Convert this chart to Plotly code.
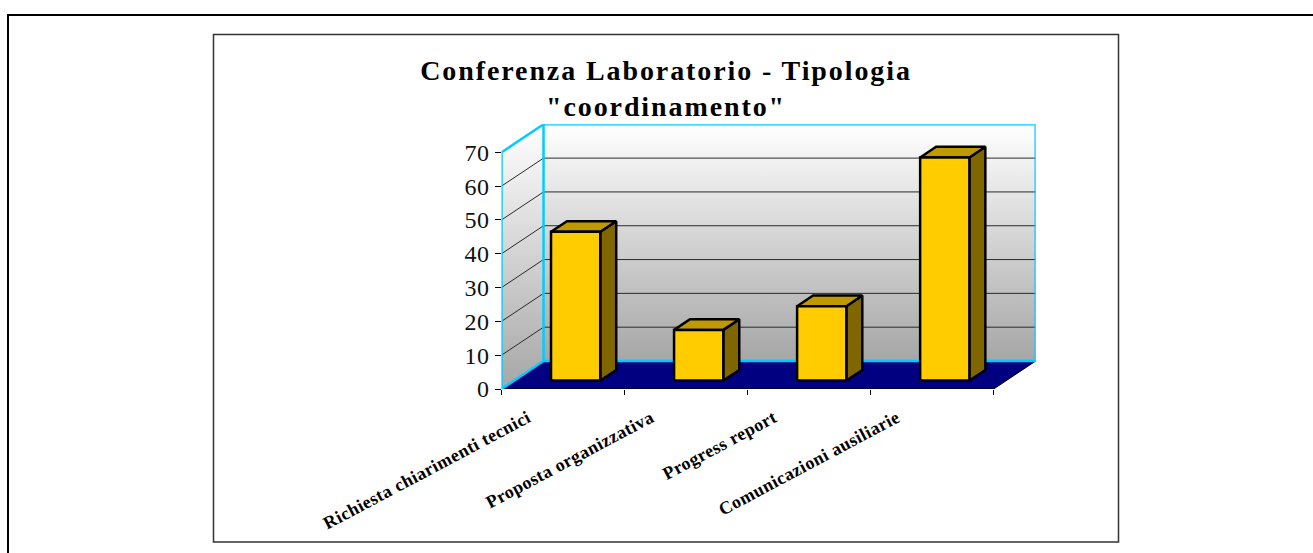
import plotly.graph_objects as go

# Data
categories = ["Richiesta chiarimenti tecnici", "Proposta organizzativa", "Progress report", "Comunicazioni ausiliarie"]
values = [44, 15, 22, 66]
y_ticks = [0, 10, 20, 30, 40, 50, 60, 70]
title_lines = ["Conferenza Laboratorio - Tipologia", '"coordinamento"']

# Oblique projection of the depth axis, in axis units
DEPTH_X = 0.3415
DEPTH_Y = 8.28
BAR_WIDTH = 0.4
BAR_FRONT, BAR_BACK = 0.30, 0.68
Y_MAX = y_ticks[-1]
N = len(categories)

CYAN = "#00CCFF"
FRONT, TOP, SIDE = "#FFCC00", "#BF9900", "#806600"


def proj(x, y, depth):
    return x + depth * DEPTH_X, y + depth * DEPTH_Y


def poly(points, **kw):
    pts = [proj(*p) for p in points]
    xs = [p[0] for p in pts]
    ys = [p[1] for p in pts]
    return go.Scatter(x=xs, y=ys, mode="lines", hoverinfo="skip", showlegend=False,
                      cliponaxis=False, **kw)


def closed(points):
    return points + points[:1]


WALL_SCALE = [[0, "#A6A6A6"], [1, "#FFFFFF"]]
fig = go.Figure()

# Walls
wall_grad = dict(type="vertical", colorscale=WALL_SCALE)
fig.add_trace(poly(closed([(0, 0, 1), (N, 0, 1), (N, Y_MAX, 1), (0, Y_MAX, 1)]),
                   fill="toself", fillgradient=wall_grad, line=dict(width=0)))
fig.add_trace(poly(closed([(0, 0, 0), (0, 0, 1), (0, Y_MAX, 1), (0, Y_MAX, 0)]),
                   fill="toself", fillgradient=wall_grad, line=dict(width=0)))
# Floor
fig.add_trace(poly(closed([(0, 0, 0), (N, 0, 0), (N, 0, 1), (0, 0, 1)]),
                   fill="toself", fillcolor="#000080", line=dict(width=0)))
# Gridlines
for v in y_ticks[1:-1]:
    fig.add_trace(poly([(0, v, 0), (0, v, 1), (N, v, 1)], line=dict(color="#2a2a2a", width=1)))
# Floor outer edges
fig.add_trace(poly([(0, 0, 0), (N, 0, 0), (N, 0, 1)], line=dict(color="#000000", width=1)))
# Cyan wall frame
cy = dict(color=CYAN, width=2.5)
fig.add_trace(poly([(0, 0, 0), (0, Y_MAX, 0), (0, Y_MAX, 1), (N, Y_MAX, 1), (N, 0, 1), (0, 0, 1), (0, 0, 0)], line=cy))
fig.add_trace(poly([(0, Y_MAX, 1), (0, 0, 1)], line=cy))

# Bars
edge = dict(color="#000000", width=2.5)
for i, v in enumerate(values):
    x0 = i + 0.5 - BAR_WIDTH / 2
    x1 = i + 0.5 + BAR_WIDTH / 2
    f, b = BAR_FRONT, BAR_BACK
    fig.add_trace(poly(closed([(x1, 0, f), (x1, 0, b), (x1, v, b), (x1, v, f)]),
                       fill="toself", fillcolor=SIDE, line=edge))
    fig.add_trace(poly(closed([(x0, v, f), (x1, v, f), (x1, v, b), (x0, v, b)]),
                       fill="toself", fillcolor=TOP, line=edge))
    fig.add_trace(poly(closed([(x0, 0, f), (x1, 0, f), (x1, v, f), (x0, v, f)]),
                       fill="toself", fillcolor=FRONT, line=edge))

W, H = 1313, 553
X0, X1 = 501.5, 1035.7
Y0, Y1 = 389.0, 124.3
SERIF = "Liberation Serif, Times New Roman, serif"

fig.update_layout(
    width=W, height=H, margin=dict(l=0, r=0, t=0, b=0, pad=0, autoexpand=False),
    autosize=False, paper_bgcolor="white", plot_bgcolor="rgba(0,0,0,0)", showlegend=False,
    title=dict(text="<br>".join(f"<b>{t}</b>" for t in title_lines),
               x=666 / W, xanchor="center", y=1 - 80 / H, yanchor="top",
               pad=dict(t=0, b=0, l=0, r=0),
               font=dict(family=SERIF, size=28, color="black")),
    xaxis=dict(domain=[X0 / W, X1 / W], range=[0, N + DEPTH_X], showgrid=False, zeroline=False,
               showline=False, tickmode="array",
               tickvals=[i + 0.5 - 0.285 for i in range(N)],
               ticktext=[f"<b>{c}</b>" for c in categories],
               tickangle=-28, ticks="", automargin=False, ticklabelstandoff=14,
               tickfont=dict(family=SERIF, size=18, color="black")),
    xaxis2=dict(domain=[X0 / W, X1 / W], range=[0, N + DEPTH_X], overlaying="x", anchor="y",
                side="bottom", showgrid=False, zeroline=False, showline=False, tickmode="array",
                tickvals=list(range(N + 1)), ticktext=[""] * (N + 1), ticks="outside", ticklen=5,
                tickcolor="#000000", tickwidth=1, automargin=False),
    yaxis=dict(domain=[1 - Y0 / H, 1 - Y1 / H], range=[0, Y_MAX + DEPTH_Y], showgrid=False,
               zeroline=False, showline=False, tickmode="array", tickvals=y_ticks,
               ticks="outside", ticklen=6, tickcolor="#000000", tickwidth=1, automargin=False,
               tickfont=dict(family=SERIF, size=24, color="#111111")),
    shapes=[
        dict(type="path", xref="paper", yref="paper",
             path=f"M {8/W} 0 L {8/W} {1-15/H} L 1 {1-15/H}",
             line=dict(color="black", width=2)),
        dict(type="rect", xref="paper", yref="paper", x0=213.5 / W, x1=1118.5 / W,
             y0=1 - 542 / H, y1=1 - 34.5 / H, line=dict(color="#333333", width=1.5)),
    ],
)
fig.add_trace(go.Scatter(x=[0], y=[0], xaxis="x2", yaxis="y", mode="markers",
                         marker=dict(opacity=0), hoverinfo="skip", showlegend=False))

post = """
document.body.style.margin='0';
document.documentElement.style.overflow='hidden';
document.querySelectorAll('.gtitle').forEach(e=>{e.style.letterSpacing='1.9px';});
document.querySelectorAll('.ytick text').forEach(e=>{e.style.letterSpacing='0.6px';});
document.querySelectorAll('.xtick text').forEach(e=>{e.style.letterSpacing='0.45px';});
"""
fig.write_html("out.html", post_script=post, config=dict(displayModeBar=False))
